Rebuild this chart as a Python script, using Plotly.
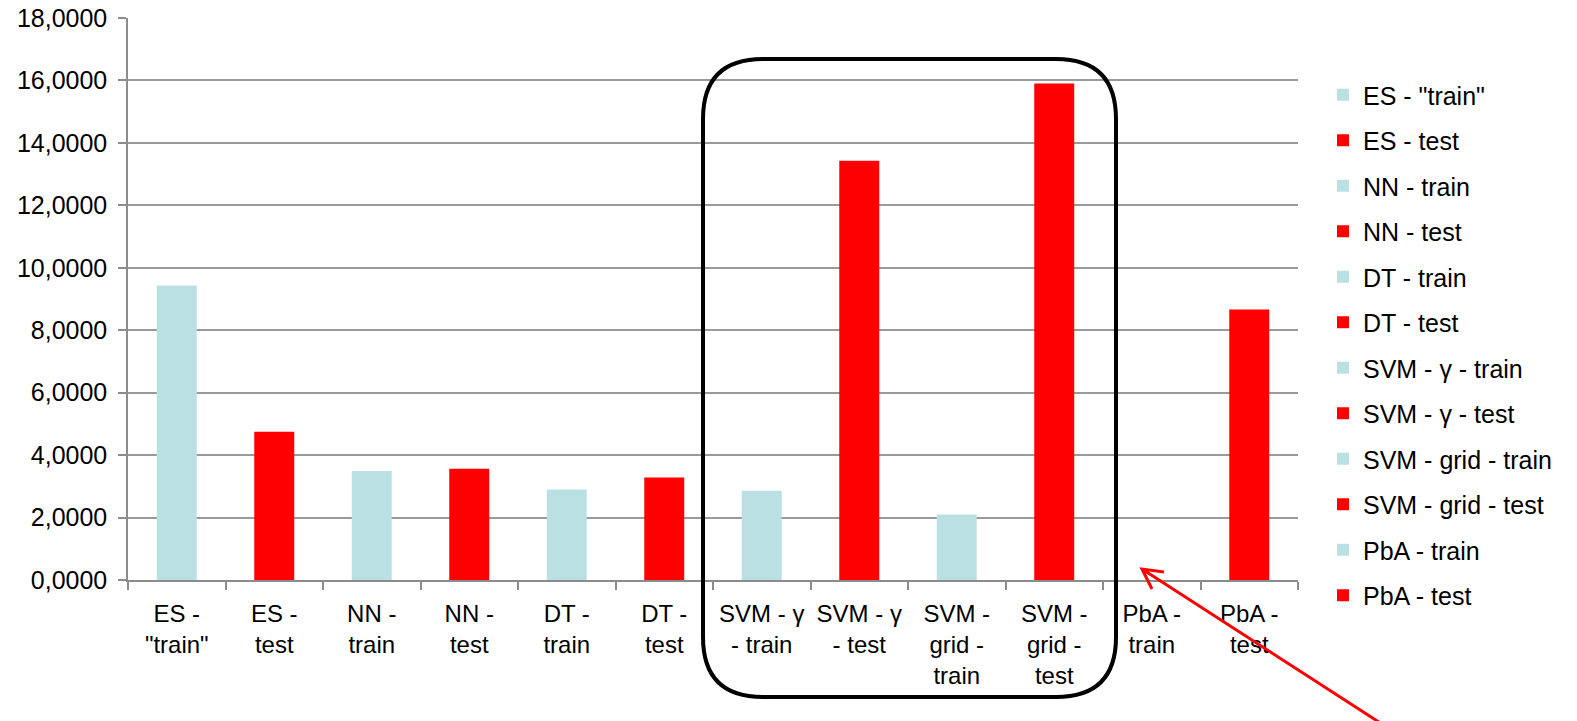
import plotly.graph_objects as go

# ---- data ----
series_names = ['ES - "train"', 'ES - test', 'NN - train', 'NN - test',
                'DT - train', 'DT - test', 'SVM - γ - train', 'SVM - γ - test',
                'SVM - grid - train', 'SVM - grid - test', 'PbA - train', 'PbA - test']
tick_labels = ['ES -<br>"train"', 'ES -<br>test', 'NN -<br>train', 'NN -<br>test',
               'DT -<br>train', 'DT -<br>test', 'SVM - γ<br>- train', 'SVM - γ<br>- test',
               'SVM -<br>grid -<br>train', 'SVM -<br>grid -<br>test', 'PbA -<br>train', 'PbA -<br>test']
values = [9.43, 4.75, 3.49, 3.56, 2.90, 3.28, 2.86, 13.43, 2.10, 15.90, 0.0, 8.66]
kinds = ['train', 'test'] * 6
y_ticks = [0, 2, 4, 6, 8, 10, 12, 14, 16, 18]
y_tick_text = ['0,0000', '2,0000', '4,0000', '6,0000', '8,0000', '10,0000',
               '12,0000', '14,0000', '16,0000', '18,0000']

# ---- styles ----
COLORS = {'train': '#BBE0E3', 'test': '#FF0000'}
FONT = 'Liberation Sans, Arial, sans-serif'
W, H = 1577, 721
L, R, T, B = 128, 1298, 18, 580  # plot area in pixels


def px_x(px):
    return (px - L) / (R - L)


def px_y(py):
    return (B - py) / (B - T)


fig = go.Figure()
for name, lab, v, k in zip(series_names, tick_labels, values, kinds):
    fig.add_trace(go.Bar(
        x=[lab], y=[v], name=name, width=0.41,
        marker=dict(color=COLORS[k], line=dict(width=0)),
        legendgroup=name,
    ))

# rounded rectangle around SVM group
x0, x1, y0, y1, r = 703, 1116, 59, 697, 60
path = (f"M {px_x(x0 + r)},{px_y(y0)} L {px_x(x1 - r)},{px_y(y0)} "
        f"Q {px_x(x1)},{px_y(y0)} {px_x(x1)},{px_y(y0 + r)} "
        f"L {px_x(x1)},{px_y(y1 - r)} "
        f"Q {px_x(x1)},{px_y(y1)} {px_x(x1 - r)},{px_y(y1)} "
        f"L {px_x(x0 + r)},{px_y(y1)} "
        f"Q {px_x(x0)},{px_y(y1)} {px_x(x0)},{px_y(y1 - r)} "
        f"L {px_x(x0)},{px_y(y0 + r)} "
        f"Q {px_x(x0)},{px_y(y0)} {px_x(x0 + r)},{px_y(y0)} Z")
shapes = [dict(type='path', xref='paper', yref='paper', path=path,
               line=dict(color='black', width=4), fillcolor='rgba(0,0,0,0)', layer='above')]

# red arrow
tip = (1142, 569)
tail = (1385, 726)
arm1 = (1164, 572)
arm2 = (1152, 589)
apath = (f"M {px_x(arm1[0])},{px_y(arm1[1])} L {px_x(tip[0])},{px_y(tip[1])} "
         f"L {px_x(arm2[0])},{px_y(arm2[1])} M {px_x(tip[0])},{px_y(tip[1])} "
         f"L {px_x(tail[0])},{px_y(tail[1])}")
shapes.append(dict(type='path', xref='paper', yref='paper', path=apath,
                   line=dict(color='#FF0000', width=3), layer='above'))

fig.update_layout(
    width=W, height=H,
    margin=dict(l=L, r=W - R, t=T, b=H - B, pad=0, autoexpand=False),
    paper_bgcolor='white', plot_bgcolor='white',
    barmode='overlay',
    font=dict(family=FONT, size=24, color='black'),
    showlegend=True,
    legend=dict(x=px_x(1323), y=px_y(72), xanchor='left', yanchor='top',
                font=dict(family=FONT, size=25, color='black'),
                tracegroupgap=10, bgcolor='rgba(0,0,0,0)', itemwidth=30),
    shapes=shapes,
    xaxis=dict(type='category', categoryorder='array', categoryarray=tick_labels,
               showline=True, linecolor='#8C8C8C', linewidth=1.5,
               ticks='outside', ticklen=8, tickcolor='#8C8C8C', tickwidth=1.5,
               tickson='boundaries', showgrid=False, automargin=False,
               tickfont=dict(family=FONT, size=24, color='black'),
               ticklabelstandoff=11),
    yaxis=dict(range=[0, 18], tickvals=y_ticks, ticktext=y_tick_text,
               showline=True, linecolor='#8C8C8C', linewidth=1.5,
               ticks='outside', ticklen=8, tickcolor='#8C8C8C', tickwidth=1.5,
               showgrid=True, gridcolor='#9A9A9A', gridwidth=1.5, zeroline=False,
               automargin=False,
               tickfont=dict(family=FONT, size=25, color='black'),
               ticklabelstandoff=6),
)

fig.write_html('out.html')
